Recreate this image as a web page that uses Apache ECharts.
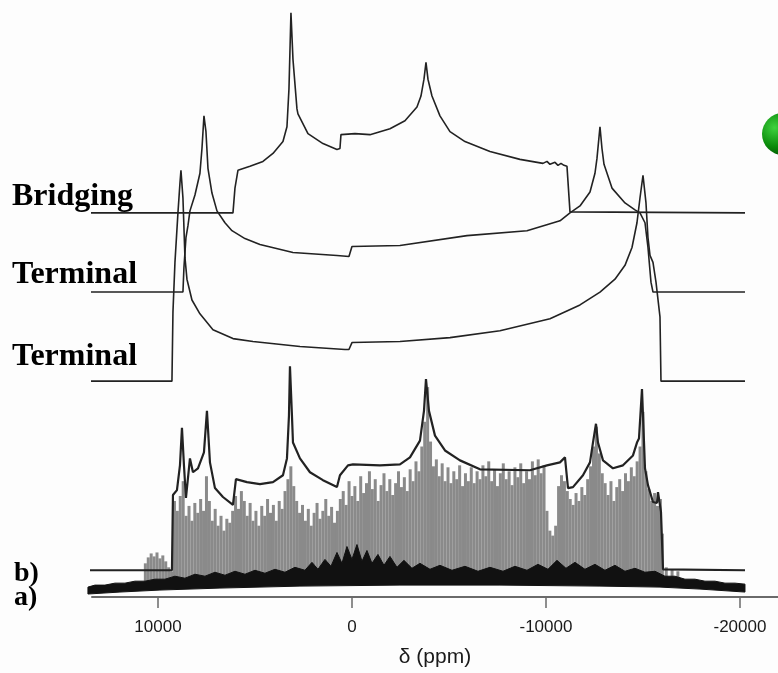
<!DOCTYPE html>
<html>
<head>
<meta charset="utf-8">
<script src="https://cdn.jsdelivr.net/npm/echarts@6/dist/echarts.min.js"></script>
<style>
html,body{margin:0;padding:0;background:#fdfdfd;}
#chart{width:778px;height:673px;}
</style>
</head>
<body>
<div id="chart"></div>
<script>
// ---- data: chemical shift (ppm) and intensity (arbitrary units) ----
const tickValues = [10000, 0, -10000, -20000];
const traceLabels = ['Bridging', 'Terminal', 'Terminal', 'b)', 'a)'];

const bridging = [
  [13815,0],[6134,0],[6031,25],[5877,43],[5258,47],[4588,52],[4072,60],[3557,72],[3351,87],[3248,125],
  [3145,202],[3041,155],[2835,105],[2784,100],[2268,80],[1495,70],[773,64],[619,65],[567,79],[-155,80],
  [-928,79],[-1959,85],[-2732,93],[-3351,107],[-3557,118],[-3712,135],[-3815,152],[-3918,135],[-4124,118],
  [-4536,98],[-5052,82],[-5825,72],[-7114,62],[-8660,54],[-9846,50],[-10052,52],[-10207,49],[-10465,51],
  [-10619,48],[-10774,50],[-10929,48],[-11032,49],[-11083,47],[-11238,1],[-11289,0],[-20259,0]
];

const terminal1 = [
  [13815,0],[8712,0],[8660,25],[8557,55],[8454,67],[8351,82],[8093,98],[7836,120],[7732,145],[7629,178],
  [7526,162],[7423,125],[7217,100],[6959,82],[6547,70],[6186,62],[5516,54],[4743,48],[3041,40],[773,37],
  [155,36],[0,46],[-2474,47],[-5928,57],[-9021,62],[-10722,72],[-11238,80],[-11753,87],[-12269,101],
  [-12526,120],[-12629,135],[-12784,167],[-12887,145],[-12991,129],[-13403,105],[-14073,90],[-14588,83],
  [-14846,80],[-15104,70],[-15258,45],[-15413,10],[-15516,0],[-20259,0]
];

const terminal2 = [
  [13815,0],[9279,0],[9227,70],[9124,120],[8970,170],[8866,200],[8815,213],[8712,185],[8609,125],[8506,103],
  [8248,82],[7836,68],[7165,52],[6134,43],[5103,40],[2681,35],[361,32],[155,32],[0,39],[-2474,40],
  [-5052,44],[-7629,51],[-10207,63],[-11753,77],[-12784,90],[-13557,103],[-14073,117],[-14434,135],
  [-14691,160],[-14846,185],[-15001,208],[-15155,180],[-15258,145],[-15362,127],[-15516,120],[-15671,100],
  [-15877,65],[-15928,0],[-20259,0]
];

const simulatedB = [
  [13815,0],[9279,0],[9227,76],[9021,81],[8866,106],[8763,144],[8660,106],[8557,73],[8506,71],[8351,113],
  [8196,99],[7939,103],[7629,119],[7475,161],[7320,109],[7062,83],[6650,74],[6134,66],[5980,92],[5413,89],
  [4743,87],[4072,89],[3557,96],[3351,113],[3248,156],[3196,206],[3093,156],[3041,129],[2681,113],[2165,99],
  [1495,91],[773,84],[619,96],[206,106],[-52,107],[-1443,106],[-2474,107],[-2990,114],[-3505,131],[-3712,161],
  [-3815,193],[-3969,161],[-4279,136],[-4794,121],[-5567,111],[-6598,102],[-9176,101],[-10052,106],[-10722,109],
  [-10980,114],[-11135,83],[-11392,84],[-11908,96],[-12269,109],[-12423,129],[-12578,148],[-12681,129],
  [-12939,111],[-13454,103],[-13969,106],[-14485,116],[-14691,129],[-14794,133],[-14949,183],[-15104,103],
  [-15258,86],[-15516,69],[-15722,68],[-15774,79],[-15928,59],[-16032,1],[-16083,0],[-20259,0]
];

const experimentalB = [
  [10650,20],[10500,26],[10350,30],[10200,27],[10050,31],[9900,25],[9750,28],[9600,22],[9450,16],[9300,12],
  [9150,83],[9000,73],[8850,88],[8700,103],[8550,68],[8400,78],[8250,63],[8100,81],[7950,71],[7800,85],
  [7650,73],[7500,108],[7350,83],[7200,63],[7050,75],[6900,58],[6750,68],[6600,53],[6450,65],[6300,61],
  [6150,73],[6000,88],[5850,75],[5700,93],[5550,83],[5400,68],[5250,81],[5100,63],[4950,73],[4800,58],
  [4650,78],[4500,68],[4350,85],[4200,71],[4050,79],[3900,63],[3750,83],[3600,75],[3450,93],[3300,105],
  [3150,118],[3000,98],[2850,83],[2700,71],[2550,79],[2400,63],[2250,75],[2100,58],[1950,71],[1800,81],
  [1650,65],[1500,73],[1350,85],[1200,68],[1050,77],[900,61],[750,73],[600,85],[450,93],[300,79],
  [150,103],[0,88],[-150,98],[-300,83],[-450,108],[-600,91],[-750,101],[-900,113],[-1050,95],[-1200,105],
  [-1350,83],[-1500,99],[-1650,111],[-1800,93],[-1950,105],[-2100,89],[-2250,101],[-2400,113],[-2550,97],[-2700,107],
  [-2850,93],[-3000,115],[-3150,103],[-3300,123],[-3450,113],[-3600,138],[-3750,163],[-3900,198],[-4050,143],[-4200,118],
  [-4350,125],[-4500,108],[-4650,121],[-4800,103],[-4950,117],[-5100,101],[-5250,113],[-5400,105],[-5550,119],[-5700,98],
  [-5850,111],[-6000,103],[-6150,117],[-6300,101],[-6450,113],[-6600,105],[-6750,119],[-6900,108],[-7050,123],[-7200,103],
  [-7350,115],[-7500,98],[-7650,111],[-7800,121],[-7950,105],[-8100,113],[-8250,99],[-8400,117],[-8550,107],[-8700,121],
  [-8850,101],[-9000,113],[-9150,105],[-9300,123],[-9450,109],[-9600,125],[-9750,111],[-9900,119],[-10050,73],[-10200,53],
  [-10350,48],[-10500,58],[-10650,98],[-10800,109],[-10950,103],[-11100,93],[-11250,85],[-11400,79],[-11550,91],[-11700,83],
  [-11850,97],[-12000,89],[-12150,105],[-12300,118],[-12450,138],[-12600,158],[-12750,131],[-12900,111],[-13050,101],[-13200,89],
  [-13350,103],[-13500,83],[-13650,97],[-13800,105],[-13950,93],[-14100,111],[-14250,103],[-14400,117],[-14550,108],[-14700,123],
  [-14850,138],[-15000,173],[-15150,113],[-15300,95],[-15450,83],[-15600,91],[-15750,78],[-15900,85],[-16000,50],[-16200,16],
  [-16500,14],[-16800,12]
];

const experimentalAUpper = [
  [13609,10],[13248,12],[12732,12],[12217,14],[11701,14],[11186,16],[10670,16],[10155,18],[9640,18],[9124,21],
  [8609,19],[8093,23],[7578,21],[7062,25],[6547,22],[6031,26],[5515,23],[5000,27],[4485,24],[3969,28],
  [3454,25],[2938,30],[2423,27],[2062,35],[1753,28],[1392,38],[1082,31],[773,45],[515,34],[258,51],
  [0,38],[-258,53],[-515,36],[-773,47],[-1031,34],[-1340,43],[-1649,32],[-1959,41],[-2320,30],[-2680,37],
  [-3093,29],[-3505,34],[-4021,28],[-4536,32],[-5155,27],[-5825,31],[-6495,26],[-7114,30],[-7784,26],[-8402,31],
  [-9021,27],[-9588,33],[-10103,28],[-10567,37],[-11031,29],[-11495,35],[-12010,28],[-12526,33],[-13041,27],[-13557,32],
  [-14072,26],[-14588,29],[-15103,25],[-15619,26],[-16134,21],[-16650,21],[-17165,18],[-17680,18],[-18196,16],[-18711,16],
  [-19227,14],[-19742,14],[-20258,13]
];
const experimentalALower = [
  [13609,3],[11959,5],[9897,7],[6804,9],[2680,11],[-2474,12],[-7629,12],[-12784,11],[-15877,10],[-17938,8],[-20258,5]
];

// ---- chart ----
const GRID_TOP = 0, AXIS_Y = 603;
function offsetAxis(baselinePx) {
  // value 0 lands on baselinePx, 1 unit = 1 px
  return { type: 'value', show: false, min: baselinePx - AXIS_Y, max: baselinePx - GRID_TOP,
           splitLine: { show: false } };
}
function traceSeries(data, yIdx, width) {
  return { type: 'line', data: data, yAxisIndex: yIdx, showSymbol: false, symbol: 'none',
           clip: false, z: 5, lineStyle: { color: '#222', width: width } };
}
const serif = '"Liberation Serif", "Times New Roman", serif';

const chart = echarts.init(document.getElementById('chart'), null, { renderer: 'canvas' });
chart.setOption({
  backgroundColor: '#fdfdfd',
  animation: false,
  grid: { left: 92, right: 0, top: GRID_TOP, bottom: 673 - AXIS_Y, containLabel: false },
  xAxis: {
    type: 'value', inverse: true, min: -21960, max: 13400,
    axisLine: { show: true, onZero: false, lineStyle: { color: '#6a6a6a', width: 2 } },
    axisTick: { show: true, customValues: tickValues, length: 11, lineStyle: { color: '#6a6a6a', width: 1.5 } },
    axisLabel: { customValues: tickValues, formatter: v => String(v), fontSize: 17,
                 fontFamily: '"Liberation Sans", Arial, sans-serif', color: '#1a1a1a', margin: 22 },
    splitLine: { show: false },
    name: 'δ (ppm)', nameLocation: 'middle', nameGap: 50,
    nameTextStyle: { fontSize: 21, fontFamily: '"Liberation Sans", Arial, sans-serif', color: '#1a1a1a' }
  },
  yAxis: [offsetAxis(215), offsetAxis(295), offsetAxis(385), offsetAxis(576), offsetAxis(589), offsetAxis(603)],
  graphic: [
    { type: 'text', x: 12, y: 197, style: { text: traceLabels[0], font: 'bold 32px ' + serif, fill: '#000', verticalAlign: 'middle' } },
    { type: 'text', x: 12, y: 275, style: { text: traceLabels[1], font: 'bold 32px ' + serif, fill: '#000', verticalAlign: 'middle' } },
    { type: 'text', x: 12, y: 357, style: { text: traceLabels[2], font: 'bold 32px ' + serif, fill: '#000', verticalAlign: 'middle' } },
    { type: 'text', x: 14, y: 574, style: { text: traceLabels[3], font: 'bold 28px ' + serif, fill: '#000', verticalAlign: 'middle' } },
    { type: 'text', x: 14, y: 598, style: { text: traceLabels[4], font: 'bold 28px ' + serif, fill: '#000', verticalAlign: 'middle' } },
    { type: 'circle', shape: { cx: 783, cy: 134, r: 21 },
      style: { fill: new echarts.graphic.RadialGradient(0.3, 0.35, 0.75, [
        { offset: 0, color: '#3fd23f' }, { offset: 0.6, color: '#0a8a0a' }, { offset: 1, color: '#024d02' }]) } }
  ],
  series: [
    { type: 'bar', data: experimentalB, yAxisIndex: 4, barWidth: 3, z: 2,
      itemStyle: { color: '#8a8a8a' } },
    { type: 'custom', yAxisIndex: 5, z: 3, data: [[0, 0]],
      renderItem: function (params, api) {
        const pts = [];
        experimentalAUpper.forEach(p => pts.push(api.coord(p)));
        for (let i = experimentalALower.length - 1; i >= 0; i--) pts.push(api.coord(experimentalALower[i]));
        return { type: 'polygon', shape: { points: pts }, style: { fill: '#111', stroke: '#111', lineWidth: 1 } };
      } },
    traceSeries(bridging, 0, 1.6),
    traceSeries(terminal1, 1, 1.6),
    traceSeries(terminal2, 2, 1.6),
    traceSeries(simulatedB, 3, 2.2)
  ]
});
</script>
</body>
</html>
